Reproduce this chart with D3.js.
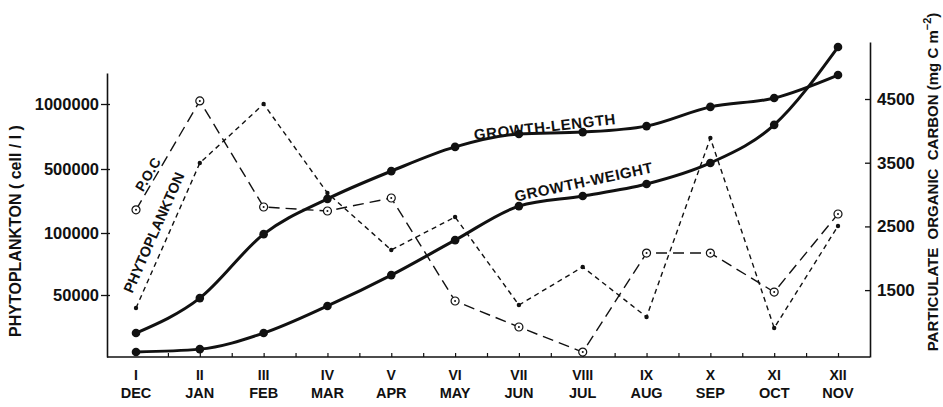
<!DOCTYPE html>
<html>
<head>
<meta charset="utf-8">
<script src="https://cdn.jsdelivr.net/npm/d3@7"></script>
<style>
  html, body { margin: 0; padding: 0; background: #fff; }
  svg { display: block; }
  text { font-family: "Liberation Sans", Arial, sans-serif; font-weight: bold; fill: #111; }
</style>
</head>
<body>
<svg id="chart" width="943" height="407"></svg>
<script>
// ---- data ----
const romanLabels = ["I","II","III","IV","V","VI","VII","VIII","IX","X","XI","XII"];
const monthLabels = ["DEC","JAN","FEB","MAR","APR","MAY","JUN","JUL","AUG","SEP","OCT","NOV"];
const phytoplankton = [39500, 546000, 1000000, 350000, 86300, 200000, 41900, 72600, 32300, 738000, 23400, 143750]; // cell / l
const poc = [2760, 4470, 2805, 2742, 2946, 1329, 921, 528, 2082, 2082, 1470, 2695]; // mg C m-2
const growthLength = [7.6, 18.7, 39.0, 50.2, 59.0, 66.7, 70.8, 71.4, 73.3, 79.4, 82.2, 89.5]; // relative units
const growthWeight = [1.6, 2.5, 7.6, 16.2, 26.0, 37.1, 47.9, 51.1, 54.9, 61.6, 73.7, 98.4]; // relative units
const phytoTicks = [50000, 100000, 500000, 1000000];
const pocTicks = [1500, 2500, 3500, 4500];

// ---- layout ----
const svg = d3.select("#chart");
const left = 107, right = 870, bottom = 357, topL = 73, topR = 42;

const x = d3.scaleLinear().domain([0, 11]).range([136, 838]);
// left axis: equally spaced (non-linear) tick ladder
const yPhyto = d3.scaleLinear()
  .domain([0, 50000, 100000, 500000, 1000000, 1240000])
  .range([bottom, 295, 233, 169, 104, topL]);
const yPoc = d3.scaleLinear().domain([450, 5395]).range([bottom, topR]);
const yGrowth = d3.scaleLinear().domain([0, 100]).range([bottom, topR]);

const idx = d3.range(12);

// frame: bottom line
svg.append("line").attr("x1", left).attr("x2", right).attr("y1", bottom).attr("y2", bottom)
  .attr("stroke", "#111").attr("stroke-width", 1.6);

// left axis
const gL = svg.append("g").attr("transform", `translate(${left},0)`)
  .call(d3.axisLeft(yPhyto).tickValues(phytoTicks).tickFormat(d3.format("d"))
    .tickSizeInner(6).tickSizeOuter(0).tickPadding(2));
gL.select(".domain").attr("stroke", "#111").attr("stroke-width", 1.6);
gL.selectAll(".tick line").attr("stroke", "#111").attr("stroke-width", 1.3).attr("x2", 3).attr("x1", -6);
gL.selectAll(".tick text").style("font-size", "16.5px").attr("fill", "#111");

// right axis (ticks inward)
const gR = svg.append("g").attr("transform", `translate(${right},0)`)
  .call(d3.axisRight(yPoc).tickValues(pocTicks).tickFormat(d3.format("d"))
    .tickSizeInner(-5).tickSizeOuter(0).tickPadding(7));
gR.select(".domain").attr("stroke", "#111").attr("stroke-width", 1.6);
gR.selectAll(".tick line").attr("stroke", "#111").attr("stroke-width", 1.3);
gR.selectAll(".tick text").style("font-size", "17px").attr("fill", "#111");

// bottom ticks (months and half months, pointing up)
const gB = svg.append("g").attr("transform", `translate(0,${bottom})`)
  .call(d3.axisBottom(x).tickValues(d3.range(0.5, 11.01, 0.5)).tickFormat("")
    .tickSizeInner(-4).tickSizeOuter(0));
gB.select(".domain").remove();
gB.selectAll(".tick line").attr("stroke", "#111").attr("stroke-width", 1.2);

// month labels
svg.append("g").selectAll("text").data(idx).join("text")
  .attr("x", i => x(i)).attr("y", 380).attr("text-anchor", "middle")
  .style("font-size", "14px").text(i => romanLabels[i]);
svg.append("g").selectAll("text").data(idx).join("text")
  .attr("x", i => x(i)).attr("y", 398).attr("text-anchor", "middle")
  .style("font-size", "14.5px").text(i => monthLabels[i]);

// axis titles
svg.append("text").attr("transform", "translate(21,231) rotate(-90)")
  .attr("text-anchor", "middle").style("font-size", "16px")
  .text("PHYTOPLANKTON ( cell / l )");
const rt = svg.append("text").attr("transform", "translate(938,182) rotate(-90)")
  .attr("text-anchor", "middle").style("font-size", "15px").attr("xml:space", "preserve");
rt.append("tspan").text("PARTICULATE  ORGANIC  CARBON (mg C m");
rt.append("tspan").attr("dy", -7).style("font-size", "11px").text("−2");
rt.append("tspan").attr("dy", 7).text(")");

// ---- series ----
const smooth = d3.line().x((d, i) => x(i)).curve(d3.curveMonotoneX);
const straight = d3.line().x((d, i) => x(i));

// phytoplankton (short dash, small dots)
svg.append("path").datum(phytoplankton)
  .attr("d", straight.y(d => yPhyto(d)))
  .attr("fill", "none").attr("stroke", "#111").attr("stroke-width", 1.4)
  .attr("stroke-dasharray", "5,4");
svg.append("g").selectAll("circle").data(phytoplankton).join("circle")
  .attr("cx", (d, i) => x(i)).attr("cy", d => yPhyto(d)).attr("r", 2.2).attr("fill", "#111");

// P.O.C (long dash, open circles)
svg.append("path").datum(poc)
  .attr("d", straight.y(d => yPoc(d)))
  .attr("fill", "none").attr("stroke", "#111").attr("stroke-width", 1.4)
  .attr("stroke-dasharray", "11,6");
const pc = svg.append("g").selectAll("g").data(poc).join("g")
  .attr("transform", (d, i) => `translate(${x(i)},${yPoc(d)})`);
pc.append("circle").attr("r", 4).attr("fill", "#fff").attr("stroke", "#111").attr("stroke-width", 1.2);
pc.append("circle").attr("r", 1).attr("fill", "#111");

// growth curves
function growth(data) {
  svg.append("path").datum(data)
    .attr("d", smooth.y(d => yGrowth(d)))
    .attr("fill", "none").attr("stroke", "#111").attr("stroke-width", 3);
  svg.append("g").selectAll("circle").data(data).join("circle")
    .attr("cx", (d, i) => x(i)).attr("cy", d => yGrowth(d)).attr("r", 4.3).attr("fill", "#111");
}
growth(growthLength);
growth(growthWeight);

// ---- in-chart labels ----
function angleOf(y, a, b, arr) {
  const dx = x(b) - x(a), dy = y(arr[b]) - y(arr[a]);
  return Math.atan2(dy, dx) * 180 / Math.PI;
}
const aPoc = angleOf(yPoc, 0, 1, poc);
svg.append("text")
  .attr("transform", `translate(149,175) rotate(${aPoc})`)
  .attr("text-anchor", "middle").attr("dominant-baseline", "middle")
  .style("font-size", "14px").text("P.O.C");
const aPhy = angleOf(yPhyto, 0, 1, phytoplankton);
svg.append("text")
  .attr("transform", `translate(155,233) rotate(${aPhy})`)
  .attr("text-anchor", "middle").attr("dominant-baseline", "middle")
  .style("font-size", "14.5px").text("PHYTOPLANKTON");

svg.append("text")
  .attr("transform", `translate(${x(6.41)},${yGrowth(72.7)}) rotate(-6.5)`)
  .attr("text-anchor", "middle").attr("dominant-baseline", "middle")
  .style("font-size", "15px").style("letter-spacing", "0.6px").text("GROWTH-LENGTH");
svg.append("text")
  .attr("transform", `translate(${x(7.02)},${yGrowth(55.2)}) rotate(-12)`)
  .attr("text-anchor", "middle").attr("dominant-baseline", "middle")
  .style("font-size", "15px").style("letter-spacing", "0.6px").text("GROWTH-WEIGHT");
</script>
</body>
</html>
